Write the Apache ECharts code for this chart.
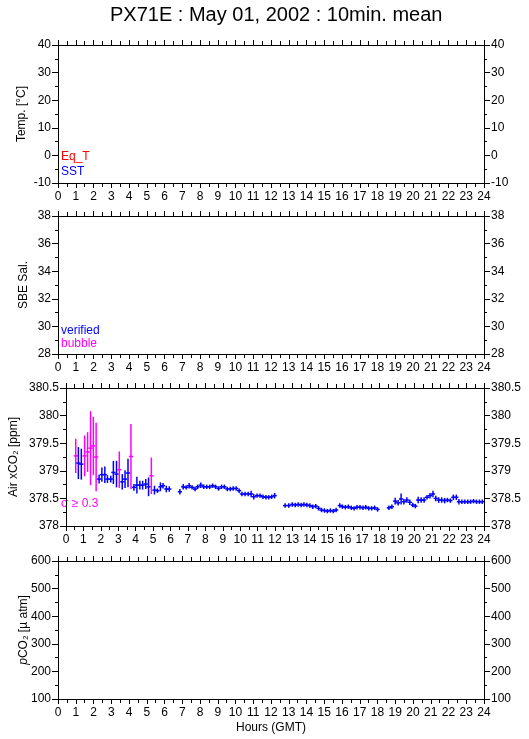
<!DOCTYPE html>
<html>
<head>
<meta charset="utf-8">
<script src="https://cdn.jsdelivr.net/npm/echarts@6/dist/echarts.min.js"></script>
<style>
html,body{margin:0;padding:0;background:#fff;}
#chart{width:529px;height:739px;}
</style>
</head>
<body>
<div id="chart"></div>
<script>
// ---- data ----
var hourTicks = ['0','1','2','3','4','5','6','7','8','9','10','11','12','13','14','15','16','17','18','19','20','21','22','23','24'];

// Air xCO2 10-minute means: time (hours GMT), value (ppm), standard deviation (ppm)
var airTime = [
  0.56,0.71,0.88,1.07,1.24,1.41,1.57,1.73,1.90,2.06,2.23,2.38,2.57,2.72,2.90,3.06,3.23,3.39,3.56,3.73,
  3.90,4.07,4.24,4.40,4.58,4.74,4.90,5.08,5.25,5.42,5.57,5.76,5.93,
  6.54,6.73,6.90,7.07,7.24,7.41,7.56,7.74,7.91,8.08,8.25,8.42,8.59,8.76,8.93,9.09,9.26,9.43,9.60,9.77,
  9.94,10.10,10.28,10.46,10.63,10.78,10.97,11.14,11.31,11.48,11.64,11.81,11.98,
  12.58,12.79,12.99,13.16,13.33,13.50,13.66,13.83,14.00,14.17,14.34,14.50,14.67,14.84,15.01,15.18,15.35,15.51,
  15.72,15.87,16.04,16.21,16.38,16.54,16.71,16.88,17.05,17.21,17.38,17.55,17.72,17.89,
  18.54,18.71,18.90,19.07,19.24,19.40,19.57,19.74,19.91,20.06,20.22,20.39,20.56,20.73,20.90,21.07,21.23,
  21.40,21.57,21.74,21.90,22.07,22.24,22.41,22.56,22.73,22.90,23.07,23.23,23.40,23.57,23.74,23.90
];
var airXCO2 = [
  379.27,379.14,379.12,379.27,379.34,379.41,379.45,379.25,378.85,378.93,378.93,378.85,378.85,378.97,378.94,379.02,378.80,378.85,378.96,379.26,
  378.70,378.74,378.74,378.74,378.76,378.71,378.91,378.65,378.64,378.71,378.73,378.67,378.67,
  378.62,378.71,378.70,378.73,378.70,378.67,378.71,378.74,378.71,378.71,378.71,378.73,378.71,378.68,378.71,378.71,378.67,378.67,378.68,378.68,
  378.64,378.58,378.58,378.58,378.58,378.53,378.55,378.55,378.53,378.52,378.52,378.53,378.55,
  378.37,378.37,378.39,378.38,378.39,378.38,378.39,378.38,378.37,378.35,378.36,378.32,378.29,378.28,378.27,378.28,378.27,378.29,
  378.37,378.35,378.34,378.35,378.33,378.32,378.34,378.34,378.33,378.34,378.32,378.32,378.33,378.30,
  378.33,378.35,378.45,378.42,378.49,378.44,378.47,378.43,378.38,378.36,378.47,378.47,378.47,378.52,378.55,378.58,378.50,
  378.47,378.47,378.46,378.47,378.46,378.52,378.52,378.44,378.44,378.44,378.44,378.44,378.45,378.44,378.44,378.44
];
var airSigma = [
  0.31,0.29,0.28,0.37,0.36,0.67,0.53,0.62,0.08,0.13,0.15,0.07,0.06,0.21,0.24,0.33,0.14,0.16,0.26,0.59,
  0.06,0.15,0.08,0.08,0.09,0.17,0.33,0.08,0.04,0.08,0.05,0.06,0.05,
  0.05,0.05,0.04,0.05,0.04,0.04,0.04,0.05,0.04,0.04,0.04,0.04,0.04,0.04,0.04,0.04,0.04,0.04,0.04,0.04,
  0.04,0.04,0.04,0.04,0.06,0.05,0.04,0.04,0.04,0.04,0.04,0.04,0.05,
  0.04,0.04,0.04,0.04,0.04,0.04,0.04,0.04,0.04,0.04,0.04,0.04,0.04,0.04,0.04,0.04,0.04,0.04,
  0.04,0.04,0.04,0.04,0.04,0.04,0.04,0.04,0.04,0.04,0.04,0.04,0.04,0.04,
  0.04,0.04,0.06,0.05,0.10,0.05,0.05,0.05,0.04,0.04,0.06,0.05,0.05,0.04,0.05,0.06,0.05,
  0.05,0.05,0.05,0.04,0.04,0.05,0.05,0.05,0.04,0.04,0.04,0.04,0.04,0.04,0.04,0.04
];
var sigmaLimit = 0.3;

// ---- chart ----
var FONT = '"Liberation Sans", Arial, Helvetica, sans-serif';
var chart = echarts.init(document.getElementById('chart'), null, {renderer:'canvas'});

var gridTops = [45, 216, 388, 561];
var gridH = 138;
var yDefs = [
  {min:-10, max:40, interval:10, name:'Temp. [°C]', gap:30},
  {min:28, max:38, interval:2, name:'SBE Sal.', gap:28},
  {min:378, max:380.5, interval:0.5, name:'Air xCO₂ [ppm]', gap:46},
  {min:100, max:600, interval:100, name:'{i|p}CO₂ [µ atm]', gap:28}
];

var grids = [], xAxes = [], yAxes = [];
gridTops.forEach(function(t, i){
  grids.push({left:58, top:t, width:426, height:gridH, show:false});
  var baseX = {
    type:'value', gridIndex:i, min:0, max:24, interval:1,
    axisLine:{show:true, onZero:false, lineStyle:{color:'#000', width:1}},
    axisTick:{show:true, length:5, lineStyle:{color:'#000'}},
    minorTick:{show:true, splitNumber:2, length:4, lineStyle:{color:'#000'}},
    splitLine:{show:false}, minorSplitLine:{show:false}
  };
  xAxes.push(Object.assign({}, baseX, {
    position:'bottom',
    axisLabel:{show:true, margin:8, color:'#000', fontSize:12, fontFamily:FONT,
      formatter:function(v){ return hourTicks[Math.round(v)]; }},
    name: i === 3 ? 'Hours (GMT)' : '',
    nameLocation:'middle', nameGap:23,
    nameTextStyle:{color:'#000', fontSize:12, fontFamily:FONT}
  }));
  xAxes.push(Object.assign({}, baseX, {position:'top', axisLabel:{show:false}}));
  var d = yDefs[i];
  var baseY = {
    type:'value', gridIndex:i, min:d.min, max:d.max, interval:d.interval,
    axisLine:{show:true, onZero:false, lineStyle:{color:'#000', width:1}},
    axisTick:{show:true, length:6, lineStyle:{color:'#000'}},
    minorTick:{show:true, splitNumber:2, length:3, lineStyle:{color:'#000'}},
    splitLine:{show:false}, minorSplitLine:{show:false},
    axisLabel:{show:true, margin:7, color:'#000', fontSize:12, fontFamily:FONT}
  };
  yAxes.push(Object.assign({}, baseY, {
    position:'left', name:d.name, nameLocation:'middle', nameGap:d.gap, nameRotate:90,
    nameMoveOverlap:false,
    nameTextStyle:{color:'#000', fontSize:12, fontFamily:FONT,
      rich:{i:{fontStyle:'italic', fontSize:12, fontFamily:FONT, color:'#000'}}}
  }));
  yAxes.push(Object.assign({}, baseY, {position:'right'}));
});

var airData = airTime.map(function(t, k){ return [t, airXCO2[k], airSigma[k]]; });
var HALF = 0.12;

var option = {
  animation:false,
  backgroundColor:'#fff',
  title:{text:'PX71E : May 01, 2002 : 10min. mean', left:105, top:0,
    textStyle:{color:'#000', fontSize:20, fontWeight:'normal', fontFamily:FONT}},
  grid:grids, xAxis:xAxes, yAxis:yAxes,
  graphic:[
    {type:'text', left:61, top:151, style:{text:'Eq_T', fill:'#ff0000', font:'12px '+FONT}},
    {type:'text', left:61, top:166, style:{text:'SST', fill:'#0000ff', font:'12px '+FONT}},
    {type:'text', left:61, top:325, style:{text:'verified', fill:'#0000ff', font:'12px '+FONT}},
    {type:'text', left:61, top:338, style:{text:'bubble', fill:'#ff00ff', font:'12px '+FONT}},
    {type:'text', left:61, top:498, style:{text:'σ ≥ 0.3', fill:'#ff00ff', font:'12px '+FONT}}
  ],
  series:[{
    type:'custom', xAxisIndex:4, yAxisIndex:4, clip:true,
    data:airData,
    renderItem:function(params, api){
      var t = api.value(0), v = api.value(1), s = api.value(2);
      var c = s >= sigmaLimit ? '#ff00ff' : '#0000ff';
      var p0 = api.coord([t - HALF, v]), p1 = api.coord([t + HALF, v]);
      var q0 = api.coord([t, v - s]), q1 = api.coord([t, v + s]);
      return {type:'group', children:[
        {type:'line', shape:{x1:q0[0], y1:q0[1], x2:q1[0], y2:q1[1]}, style:{stroke:c, lineWidth:1.5}},
        {type:'line', shape:{x1:p0[0], y1:p0[1], x2:p1[0], y2:p1[1]}, style:{stroke:c, lineWidth:1.5}}
      ]};
    }
  }]
};
chart.setOption(option);
</script>
</body>
</html>
